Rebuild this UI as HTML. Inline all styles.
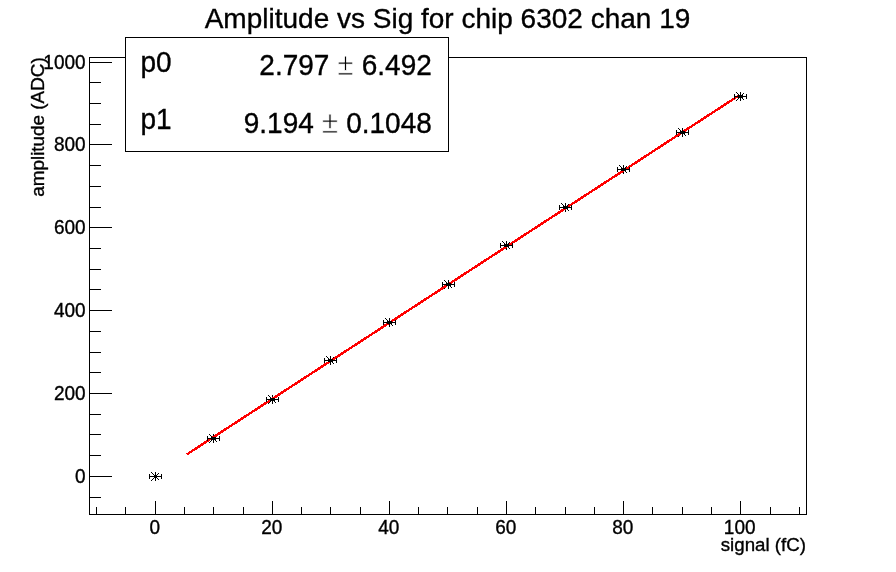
<!DOCTYPE html>
<html><head><meta charset="utf-8"><title>Amplitude vs Sig for chip 6302 chan 19</title>
<style>html,body{margin:0;padding:0;background:#fff;}body{width:896px;height:572px;overflow:hidden;}svg{display:block;}text{font-family:"Liberation Sans",sans-serif;fill:#000;stroke:#000;stroke-width:0.35px;}.pm{font-size:30px;stroke:#fff;stroke-width:0.8px;}</style>
</head><body>
<svg width="896" height="572" viewBox="0 0 896 572">
<rect x="0" y="0" width="896" height="572" fill="#fff"/>
<g shape-rendering="crispEdges" stroke="#000" stroke-width="1" fill="none">
<rect x="89.5" y="57.5" width="717" height="457"/>
<line x1="96.5" y1="507" x2="96.5" y2="514"/>
<line x1="125.5" y1="507" x2="125.5" y2="514"/>
<line x1="155.5" y1="501" x2="155.5" y2="514"/>
<line x1="184.5" y1="507" x2="184.5" y2="514"/>
<line x1="213.5" y1="507" x2="213.5" y2="514"/>
<line x1="243.5" y1="507" x2="243.5" y2="514"/>
<line x1="272.5" y1="501" x2="272.5" y2="514"/>
<line x1="301.5" y1="507" x2="301.5" y2="514"/>
<line x1="330.5" y1="507" x2="330.5" y2="514"/>
<line x1="360.5" y1="507" x2="360.5" y2="514"/>
<line x1="389.5" y1="501" x2="389.5" y2="514"/>
<line x1="418.5" y1="507" x2="418.5" y2="514"/>
<line x1="447.5" y1="507" x2="447.5" y2="514"/>
<line x1="477.5" y1="507" x2="477.5" y2="514"/>
<line x1="506.5" y1="501" x2="506.5" y2="514"/>
<line x1="535.5" y1="507" x2="535.5" y2="514"/>
<line x1="565.5" y1="507" x2="565.5" y2="514"/>
<line x1="594.5" y1="507" x2="594.5" y2="514"/>
<line x1="623.5" y1="501" x2="623.5" y2="514"/>
<line x1="652.5" y1="507" x2="652.5" y2="514"/>
<line x1="682.5" y1="507" x2="682.5" y2="514"/>
<line x1="711.5" y1="507" x2="711.5" y2="514"/>
<line x1="740.5" y1="501" x2="740.5" y2="514"/>
<line x1="770.5" y1="507" x2="770.5" y2="514"/>
<line x1="799.5" y1="507" x2="799.5" y2="514"/>
<line x1="90" y1="497.5" x2="101" y2="497.5"/>
<line x1="90" y1="476.5" x2="112" y2="476.5"/>
<line x1="90" y1="455.5" x2="101" y2="455.5"/>
<line x1="90" y1="434.5" x2="101" y2="434.5"/>
<line x1="90" y1="414.5" x2="101" y2="414.5"/>
<line x1="90" y1="393.5" x2="112" y2="393.5"/>
<line x1="90" y1="372.5" x2="101" y2="372.5"/>
<line x1="90" y1="352.5" x2="101" y2="352.5"/>
<line x1="90" y1="331.5" x2="101" y2="331.5"/>
<line x1="90" y1="310.5" x2="112" y2="310.5"/>
<line x1="90" y1="289.5" x2="101" y2="289.5"/>
<line x1="90" y1="269.5" x2="101" y2="269.5"/>
<line x1="90" y1="248.5" x2="101" y2="248.5"/>
<line x1="90" y1="227.5" x2="112" y2="227.5"/>
<line x1="90" y1="207.5" x2="101" y2="207.5"/>
<line x1="90" y1="186.5" x2="101" y2="186.5"/>
<line x1="90" y1="165.5" x2="101" y2="165.5"/>
<line x1="90" y1="144.5" x2="112" y2="144.5"/>
<line x1="90" y1="124.5" x2="101" y2="124.5"/>
<line x1="90" y1="103.5" x2="101" y2="103.5"/>
<line x1="90" y1="82.5" x2="101" y2="82.5"/>
<line x1="90" y1="62.5" x2="112" y2="62.5"/>
</g>
<g font-size="19">
<text transform="translate(154.7,533.8) scale(1,1.04)" text-anchor="middle">0</text>
<text transform="translate(271.7,533.8) scale(1,1.04)" text-anchor="middle">20</text>
<text transform="translate(388.7,533.8) scale(1,1.04)" text-anchor="middle">40</text>
<text transform="translate(505.7,533.8) scale(1,1.04)" text-anchor="middle">60</text>
<text transform="translate(622.7,533.8) scale(1,1.04)" text-anchor="middle">80</text>
<text transform="translate(739.7,533.8) scale(1,1.04)" text-anchor="middle">100</text>
<text transform="translate(85.6,482.9) scale(1,1.04)" text-anchor="end">0</text>
<text transform="translate(85.6,399.9) scale(1,1.04)" text-anchor="end">200</text>
<text transform="translate(85.6,316.9) scale(1,1.04)" text-anchor="end">400</text>
<text transform="translate(85.6,233.9) scale(1,1.04)" text-anchor="end">600</text>
<text transform="translate(85.6,150.9) scale(1,1.04)" text-anchor="end">800</text>
<text transform="translate(85.6,68.9) scale(1,1.04)" text-anchor="end">1000</text>
<text transform="translate(806.1,551.4) scale(1,0.99)" font-size="18.75" text-anchor="end">signal (fC)</text>
<text transform="translate(44.0,57.3) rotate(-90) scale(1,1.0)" font-size="18.87" text-anchor="end">amplitude (ADC)</text>
</g>
<g shape-rendering="crispEdges" stroke="#000" stroke-width="1" fill="none">
<path d="M155.5 472.0V481.0M151.0 476.5H160.0"/><path stroke="none" fill="#000" d="M151 472h1v1h-1zM151 480h1v1h-1zM152 473h1v1h-1zM152 479h1v1h-1zM153 474h1v1h-1zM153 478h1v1h-1zM154 475h1v1h-1zM154 477h1v1h-1zM155 476h1v1h-1zM155 476h1v1h-1zM156 477h1v1h-1zM156 475h1v1h-1zM157 478h1v1h-1zM157 474h1v1h-1zM158 479h1v1h-1zM158 473h1v1h-1z"/>
<path d="M213.5 434.0V443.0M209.0 438.5H218.0"/><path stroke="none" fill="#000" d="M209 434h1v1h-1zM209 442h1v1h-1zM210 435h1v1h-1zM210 441h1v1h-1zM211 436h1v1h-1zM211 440h1v1h-1zM212 437h1v1h-1zM212 439h1v1h-1zM213 438h1v1h-1zM213 438h1v1h-1zM214 439h1v1h-1zM214 437h1v1h-1zM215 440h1v1h-1zM215 436h1v1h-1zM216 441h1v1h-1zM216 435h1v1h-1z"/>
<path d="M272.5 395.0V404.0M268.0 399.5H277.0"/><path stroke="none" fill="#000" d="M268 395h1v1h-1zM268 403h1v1h-1zM269 396h1v1h-1zM269 402h1v1h-1zM270 397h1v1h-1zM270 401h1v1h-1zM271 398h1v1h-1zM271 400h1v1h-1zM272 399h1v1h-1zM272 399h1v1h-1zM273 400h1v1h-1zM273 398h1v1h-1zM274 401h1v1h-1zM274 397h1v1h-1zM275 402h1v1h-1zM275 396h1v1h-1z"/>
<path d="M330.5 356.0V365.0M326.0 360.5H335.0"/><path stroke="none" fill="#000" d="M326 356h1v1h-1zM326 364h1v1h-1zM327 357h1v1h-1zM327 363h1v1h-1zM328 358h1v1h-1zM328 362h1v1h-1zM329 359h1v1h-1zM329 361h1v1h-1zM330 360h1v1h-1zM330 360h1v1h-1zM331 361h1v1h-1zM331 359h1v1h-1zM332 362h1v1h-1zM332 358h1v1h-1zM333 363h1v1h-1zM333 357h1v1h-1z"/>
<path d="M389.5 318.0V327.0M385.0 322.5H394.0"/><path stroke="none" fill="#000" d="M385 318h1v1h-1zM385 326h1v1h-1zM386 319h1v1h-1zM386 325h1v1h-1zM387 320h1v1h-1zM387 324h1v1h-1zM388 321h1v1h-1zM388 323h1v1h-1zM389 322h1v1h-1zM389 322h1v1h-1zM390 323h1v1h-1zM390 321h1v1h-1zM391 324h1v1h-1zM391 320h1v1h-1zM392 325h1v1h-1zM392 319h1v1h-1z"/>
<path d="M448.5 280.0V289.0M444.0 284.5H453.0"/><path stroke="none" fill="#000" d="M444 280h1v1h-1zM444 288h1v1h-1zM445 281h1v1h-1zM445 287h1v1h-1zM446 282h1v1h-1zM446 286h1v1h-1zM447 283h1v1h-1zM447 285h1v1h-1zM448 284h1v1h-1zM448 284h1v1h-1zM449 285h1v1h-1zM449 283h1v1h-1zM450 286h1v1h-1zM450 282h1v1h-1zM451 287h1v1h-1zM451 281h1v1h-1z"/>
<path d="M506.5 241.0V250.0M502.0 245.5H511.0"/><path stroke="none" fill="#000" d="M502 241h1v1h-1zM502 249h1v1h-1zM503 242h1v1h-1zM503 248h1v1h-1zM504 243h1v1h-1zM504 247h1v1h-1zM505 244h1v1h-1zM505 246h1v1h-1zM506 245h1v1h-1zM506 245h1v1h-1zM507 246h1v1h-1zM507 244h1v1h-1zM508 247h1v1h-1zM508 243h1v1h-1zM509 248h1v1h-1zM509 242h1v1h-1z"/>
<path d="M565.5 203.0V212.0M561.0 207.5H570.0"/><path stroke="none" fill="#000" d="M561 203h1v1h-1zM561 211h1v1h-1zM562 204h1v1h-1zM562 210h1v1h-1zM563 205h1v1h-1zM563 209h1v1h-1zM564 206h1v1h-1zM564 208h1v1h-1zM565 207h1v1h-1zM565 207h1v1h-1zM566 208h1v1h-1zM566 206h1v1h-1zM567 209h1v1h-1zM567 205h1v1h-1zM568 210h1v1h-1zM568 204h1v1h-1z"/>
<path d="M623.5 165.0V174.0M619.0 169.5H628.0"/><path stroke="none" fill="#000" d="M619 165h1v1h-1zM619 173h1v1h-1zM620 166h1v1h-1zM620 172h1v1h-1zM621 167h1v1h-1zM621 171h1v1h-1zM622 168h1v1h-1zM622 170h1v1h-1zM623 169h1v1h-1zM623 169h1v1h-1zM624 170h1v1h-1zM624 168h1v1h-1zM625 171h1v1h-1zM625 167h1v1h-1zM626 172h1v1h-1zM626 166h1v1h-1z"/>
<path d="M682.5 128.0V137.0M678.0 132.5H687.0"/><path stroke="none" fill="#000" d="M678 128h1v1h-1zM678 136h1v1h-1zM679 129h1v1h-1zM679 135h1v1h-1zM680 130h1v1h-1zM680 134h1v1h-1zM681 131h1v1h-1zM681 133h1v1h-1zM682 132h1v1h-1zM682 132h1v1h-1zM683 133h1v1h-1zM683 131h1v1h-1zM684 134h1v1h-1zM684 130h1v1h-1zM685 135h1v1h-1zM685 129h1v1h-1z"/>
<path d="M740.5 92.0V101.0M736.0 96.5H745.0"/><path stroke="none" fill="#000" d="M736 92h1v1h-1zM736 100h1v1h-1zM737 93h1v1h-1zM737 99h1v1h-1zM738 94h1v1h-1zM738 98h1v1h-1zM739 95h1v1h-1zM739 97h1v1h-1zM740 96h1v1h-1zM740 96h1v1h-1zM741 97h1v1h-1zM741 95h1v1h-1zM742 98h1v1h-1zM742 94h1v1h-1zM743 99h1v1h-1zM743 93h1v1h-1z"/>
</g>
<line shape-rendering="crispEdges" stroke="#ff0000" stroke-width="2.4" x1="187" y1="454.3" x2="738" y2="96.1"/>
<g shape-rendering="crispEdges" stroke="#000" stroke-width="1" fill="#000">
<path d="M149 476.5H162M149.5 474V479M161.5 474V479"/>
<path d="M207 438.5H220M207.5 436V441M219.5 436V441"/>
<rect x="211" y="437" width="5" height="3" stroke="none"/>
<path d="M266 399.5H279M266.5 397V402M278.5 397V402"/>
<rect x="270" y="398" width="5" height="3" stroke="none"/>
<path d="M324 360.5H337M324.5 358V363M336.5 358V363"/>
<rect x="328" y="359" width="5" height="3" stroke="none"/>
<path d="M383 322.5H396M383.5 320V325M395.5 320V325"/>
<rect x="387" y="321" width="5" height="3" stroke="none"/>
<path d="M442 284.5H455M442.5 282V287M454.5 282V287"/>
<rect x="446" y="283" width="5" height="3" stroke="none"/>
<path d="M500 245.5H513M500.5 243V248M512.5 243V248"/>
<rect x="504" y="244" width="5" height="3" stroke="none"/>
<path d="M559 207.5H572M559.5 205V210M571.5 205V210"/>
<rect x="563" y="206" width="5" height="3" stroke="none"/>
<path d="M617 169.5H630M617.5 167V172M629.5 167V172"/>
<rect x="621" y="168" width="5" height="3" stroke="none"/>
<path d="M676 132.5H689M676.5 130V135M688.5 130V135"/>
<rect x="680" y="131" width="5" height="3" stroke="none"/>
<path d="M734 96.5H747M734.5 94V99M746.5 94V99"/>
<rect x="738" y="95" width="5" height="3" stroke="none"/>
</g>
<rect shape-rendering="crispEdges" x="125.5" y="37.5" width="323" height="114" fill="#fff" stroke="#000" stroke-width="1"/>
<g font-size="28" word-spacing="0.2">
<text transform="translate(140.5,72.4) scale(1,1.04)" text-anchor="start">p0</text>
<text transform="translate(431.8,75.4) scale(1,1.04)" text-anchor="end">2.797 <tspan class="pm">±</tspan> 6.492</text>
<text transform="translate(140.5,128.5) scale(1,1.04)" text-anchor="start">p1</text>
<text transform="translate(431.8,132.6) scale(1,1.04)" text-anchor="end">9.194 <tspan class="pm">±</tspan> 0.1048</text>
</g>
<text transform="translate(447.5,27.8) scale(1,1.0)" font-size="28" text-anchor="middle">Amplitude vs Sig for chip 6302 chan 19</text>
</svg></body></html>
